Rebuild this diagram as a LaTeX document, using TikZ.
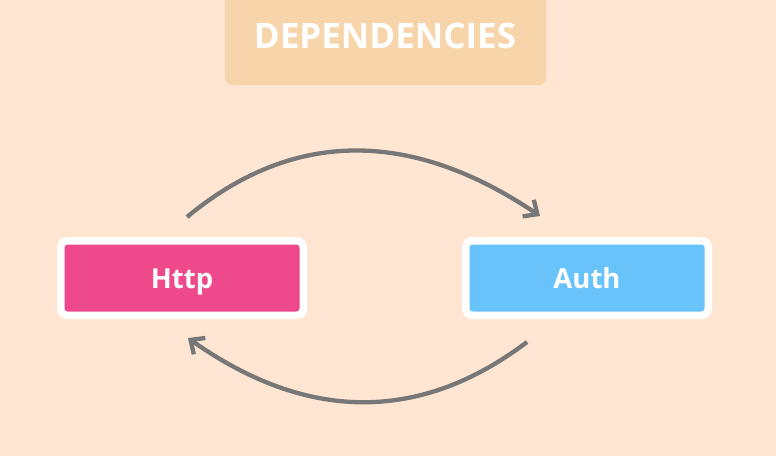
\documentclass[tikz,border=0pt]{standalone}
\usepackage{fontspec}
\setmainfont{Open Sans}
\usetikzlibrary{arrows.meta,calc}
\definecolor{bg}{HTML}{FEE6D3}
\definecolor{titlebg}{HTML}{F8D4AB}
\definecolor{pinkbox}{HTML}{EE4A8B}
\definecolor{bluebox}{HTML}{67C3F9}
\definecolor{arcgray}{HTML}{777777}
\tikzset{
  modbox/.style={draw=white, line width=7.5pt, rounded corners=6.5pt,
    minimum width=242.5pt, minimum height=74.5pt, inner sep=0pt,
    text height=20pt, text depth=0pt,
    text=white, font=\bfseries\fontsize{27.5}{30}\selectfont},
  deparrow/.style={draw=arcgray, line width=4.3pt,
    -{Straight Barb[length=11pt,width=20pt,line cap=butt,line join=miter]}}
}
\begin{document}
\begin{tikzpicture}[x=1pt,y=-1pt]
\fill[bg] (0,0) rectangle (776,456);
\useasboundingbox (0,0) rectangle (776,456);
\node[fill=titlebg, rounded corners=7pt, minimum width=321pt, minimum height=100pt,
  inner sep=0pt] (titlebox) at (385.5,35) {};
\node[text=white, font=\bfseries\fontsize{35}{40}\selectfont] (title) at (385,36) {DEPENDENCIES};
\node[modbox, fill=pinkbox] (http) at (182,278) {Http};
\node[modbox, fill=bluebox] (auth) at (587,278) {Auth};
\coordinate (a1) at ($(http.north)+(5,-20)$);
\coordinate (a2) at ($(auth.north)+(-47,-21)$);
\coordinate (b1) at ($(auth.south)+(-60,23)$);
\coordinate (b2) at ($(http.south)+(6,19)$);
\draw[deparrow] (a1) .. controls ($(a1)+(106,-88)$) and ($(a2)+(-129,-87)$) .. (a2);
\draw[deparrow] (b1) .. controls ($(b1)+(-107,81)$) and ($(b2)+(119,84)$) .. (b2);
\end{tikzpicture}
\end{document}
